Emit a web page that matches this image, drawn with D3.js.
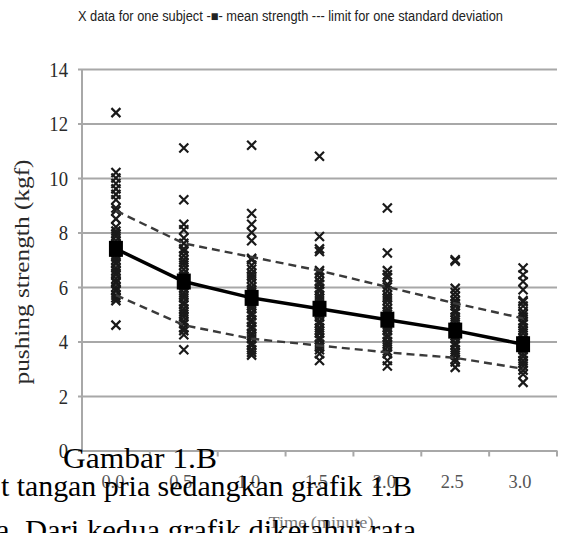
<!DOCTYPE html>
<html>
<head>
<meta charset="utf-8">
<script src="https://cdn.jsdelivr.net/npm/d3@7"></script>
<style>
  body { margin: 0; background: #fff; }
  svg { display: block; }
</style>
</head>
<body>
<div id="chart"></div>
<script>
// time points (minute)
const timeLabels = ["0.0", "0.5", "1.0", "1.5", "2.0", "2.5", "3.0"];
const yTicks = [0, 2, 4, 6, 8, 10, 12, 14];

// mean strength and +/- one standard deviation (kgf)
const meanStrength = [7.4, 6.2, 5.6, 5.2, 4.8, 4.4, 3.9];
const sdUpper = [8.8, 7.6, 7.1, 6.6, 6.0, 5.4, 4.85];
const sdLower = [5.7, 4.6, 4.1, 3.85, 3.6, 3.4, 3.0];

// data for one subject, per time point
const subjects00 = [12.4, 10.2, 10.0, 9.8, 9.6, 9.4, 9.2, 8.9, 8.8, 8.5, 8.2, 8.05, 7.95, 7.85, 7.7, 7.6, 7.55, 7.4, 7.3, 7.25, 7.1, 7.0, 6.9, 6.85, 6.7, 6.6, 6.5, 6.45, 6.3, 6.2, 6.15, 6.0, 5.9, 5.85, 5.7, 5.6, 5.5, 4.6];
const subjects05 = [11.1, 9.2, 8.3, 8.1, 7.8, 7.6, 7.4, 7.3, 7.15, 7.0, 6.9, 6.8, 6.65, 6.5, 6.4, 6.3, 6.2, 6.05, 5.95, 5.8, 5.7, 5.6, 5.45, 5.35, 5.2, 5.1, 5.0, 4.9, 4.75, 4.65, 4.5, 4.4, 4.25, 3.7];
const subjects10 = [11.2, 8.7, 8.3, 8.0, 7.7, 7.05, 7.0, 6.8, 6.65, 6.5, 6.4, 6.3, 6.15, 6.0, 5.9, 5.8, 5.65, 5.55, 5.4, 5.3, 5.2, 5.05, 4.95, 4.8, 4.7, 4.55, 4.45, 4.3, 4.2, 4.1, 3.95, 3.85, 3.7, 3.6, 3.5];
const subjects15 = [10.8, 7.85, 7.4, 7.3, 6.6, 6.5, 6.35, 6.2, 6.1, 5.95, 5.85, 5.7, 5.6, 5.5, 5.35, 5.25, 5.1, 5.0, 4.9, 4.75, 4.65, 4.5, 4.4, 4.3, 4.15, 4.05, 3.9, 3.8, 3.7, 3.55, 3.3];
const subjects20 = [8.9, 7.25, 6.6, 6.45, 6.35, 6.1, 6.0, 5.85, 5.7, 5.6, 5.5, 5.35, 5.2, 5.1, 5.0, 4.85, 4.75, 4.6, 4.5, 4.4, 4.25, 4.15, 4.0, 3.9, 3.8, 3.65, 3.55, 3.3, 3.1];
const subjects25 = [7.0, 6.95, 5.95, 5.8, 5.65, 5.5, 5.4, 5.3, 5.15, 5.05, 4.9, 4.8, 4.7, 4.55, 4.45, 4.3, 4.2, 4.1, 3.95, 3.85, 3.7, 3.6, 3.5, 3.35, 3.25, 3.05];
const subjects30 = [6.7, 6.45, 6.2, 5.9, 5.5, 5.45, 5.3, 5.1, 5.0, 4.9, 4.75, 4.65, 4.5, 4.4, 4.3, 4.15, 4.05, 3.9, 3.8, 3.7, 3.55, 3.45, 3.3, 3.2, 3.1, 2.95, 2.8, 2.5];
const subjectValues = [subjects00, subjects05, subjects10, subjects15, subjects20, subjects25, subjects30];

const width = 564, height = 533;
const svg = d3.select("#chart").append("svg")
  .attr("width", width)
  .attr("height", height)
  .style("background", "#fff");

const x = d3.scaleBand()
  .domain(timeLabels)
  .range([82, 557]);

const y = d3.scaleLinear()
  .domain([0, 14])
  .range([450.5, 69]);

const cx = d => x(d) + x.bandwidth() / 2;

// gridlines + y labels
const yAxis = svg.append("g")
  .attr("transform", "translate(78,0)")
  .call(d3.axisLeft(y).tickValues(yTicks).tickSize(-(557 - 78)).tickPadding(10).tickFormat(d3.format("d")));
yAxis.select(".domain").remove();
yAxis.selectAll(".tick line")
  .attr("stroke", "#a8a8a8")
  .attr("stroke-width", 2);
yAxis.selectAll(".tick text")
  .attr("fill", "#2a2a2a")
  .attr("font-family", "Liberation Serif, serif")
  .attr("font-size", 22)
  .attr("transform", "scale(0.85,1)")
  .attr("x", -10 / 0.85);

// left axis line
svg.append("line")
  .attr("x1", 82).attr("x2", 82)
  .attr("y1", y(14)).attr("y2", y(0))
  .attr("stroke", "#a8a8a8").attr("stroke-width", 2);

// x axis ticks at band boundaries
svg.append("g")
  .selectAll("line")
  .data(timeLabels)
  .join("line")
  .attr("x1", d => x(d) + x.bandwidth())
  .attr("x2", d => x(d) + x.bandwidth())
  .attr("y1", y(0)).attr("y2", y(0) + 6)
  .attr("stroke", "#a8a8a8").attr("stroke-width", 2);

svg.append("g")
  .selectAll("text")
  .data(timeLabels)
  .join("text")
  .attr("x", d => cx(d) - 3)
  .attr("y", 488)
  .attr("text-anchor", "middle")
  .attr("fill", "#555")
  .attr("font-family", "Liberation Serif, serif")
  .attr("font-size", 19)
  .attr("textLength", 23)
  .attr("lengthAdjust", "spacingAndGlyphs")
  .text(d => d);

// axis titles
svg.append("text")
  .attr("transform", "translate(29,272) rotate(-90)")
  .attr("text-anchor", "middle")
  .attr("fill", "#2a2a2a")
  .attr("font-family", "Liberation Serif, serif")
  .attr("font-size", 22)
  .attr("textLength", 225)
  .attr("lengthAdjust", "spacingAndGlyphs")
  .text("pushing strength (kgf)");

svg.append("text")
  .attr("x", 321).attr("y", 528)
  .attr("text-anchor", "middle")
  .attr("fill", "#777")
  .attr("font-family", "Liberation Serif, serif")
  .attr("font-size", 16)
  .attr("textLength", 105)
  .attr("lengthAdjust", "spacingAndGlyphs")
  .text("Time (minute)");

// legend
svg.append("text")
  .attr("x", 78).attr("y", 21)
  .attr("fill", "#222")
  .attr("font-family", "Liberation Sans, Arial, sans-serif")
  .attr("font-size", 14)
  .attr("textLength", 425)
  .attr("lengthAdjust", "spacingAndGlyphs")
  .text("X data for one subject -\u25A0-  mean strength --- limit for one standard deviation");

// subject crosses
const points = subjectValues.flatMap((vals, i) => vals.map(v => ({ t: timeLabels[i], v })));
svg.append("g")
  .selectAll("path")
  .data(points)
  .join("path")
  .attr("transform", d => `translate(${cx(d.t)},${y(d.v)})`)
  .attr("d", "M-4.5,-4.5L4.5,4.5M-4.5,4.5L4.5,-4.5")
  .attr("fill", "none")
  .attr("stroke", "#1a1a1a")
  .attr("stroke-width", 2.2);

// standard deviation limits
const sdLine = d3.line()
  .x((d, i) => cx(timeLabels[i]))
  .y(d => y(d));

[sdUpper, sdLower].forEach(series => {
  svg.append("path")
    .datum(series)
    .attr("fill", "none")
    .attr("stroke", "#3a3a3a")
    .attr("stroke-width", 2.4)
    .attr("stroke-dasharray", "8,5")
    .attr("d", sdLine);
});

// mean strength
svg.append("path")
  .datum(meanStrength)
  .attr("fill", "none")
  .attr("stroke", "#000")
  .attr("stroke-width", 3.5)
  .attr("d", sdLine);

svg.append("g")
  .selectAll("rect")
  .data(meanStrength)
  .join("rect")
  .attr("x", (d, i) => cx(timeLabels[i]) - 7)
  .attr("y", d => y(d) - 8)
  .attr("width", 14)
  .attr("height", 16)
  .attr("fill", "#000");

// overlapping document text
const docText = svg.append("g")
  .attr("fill", "#000")
  .attr("font-family", "Liberation Serif, Times New Roman, serif")
  .attr("font-size", 29);

docText.append("text")
  .attr("x", 63).attr("y", 468)
  .attr("textLength", 154)
  .attr("lengthAdjust", "spacingAndGlyphs")
  .text("Gambar 1.B");

docText.append("text")
  .attr("x", 1).attr("y", 496)
  .attr("textLength", 411)
  .attr("lengthAdjust", "spacingAndGlyphs")
  .text("t tangan pria sedangkan grafik 1.B");

docText.append("text")
  .attr("x", -4).attr("y", 540)
  .attr("textLength", 420)
  .attr("lengthAdjust", "spacingAndGlyphs")
  .text("a. Dari kedua grafik diketahui rata");
</script>
</body>
</html>
